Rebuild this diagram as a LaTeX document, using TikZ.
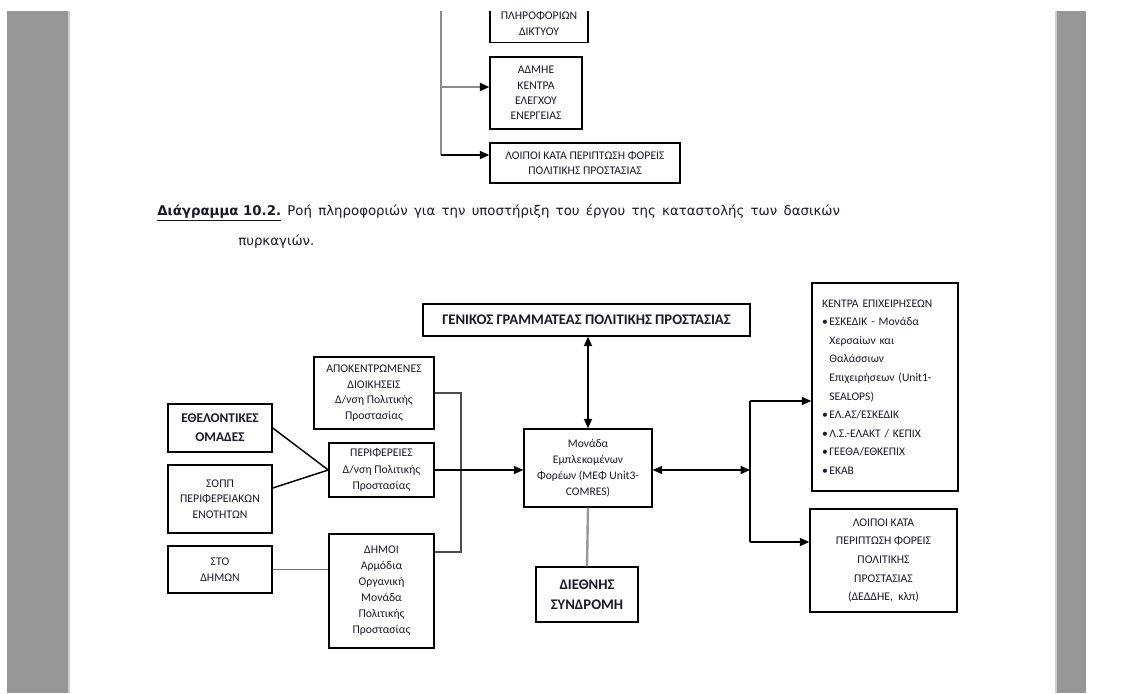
\documentclass[tikz,border=0pt]{standalone}
\usepackage{fontspec}
\setmainfont{Carlito}
\newfontfamily\captionfont{DejaVu Sans}
\usetikzlibrary{arrows.meta,calc}
\definecolor{pagegrey}{RGB}{150,150,150}
\definecolor{pageedge}{RGB}{205,205,205}
\definecolor{inkdark}{RGB}{25,25,45}

\begin{document}
\begin{tikzpicture}[x=0.75pt,y=0.75pt,yscale=-1,xscale=1,
  box/.style={draw=black, line width=1.1pt, align=center, inner sep=2pt, text=inkdark, font=\fontsize{8.8}{11.6}\selectfont},
  tip/.style={-{Triangle[length=7pt,width=6pt,color=black]}},
  twotip/.style={{Triangle[length=7pt,width=6pt]}-{Triangle[length=7pt,width=6pt]}},
  link/.style={line width=1.1pt},
  trunkline/.style={line width=1.4pt, color=black!45},
  thinlink/.style={line width=0.9pt, color=black!70},
  greylink/.style={line width=1.2pt, color=black!55},
  greythick/.style={line width=1.8pt, color=black!40}
]
\useasboundingbox (0,0) rectangle (1132,693);
\fill[white] (0,0) rectangle (1132,693);

%Shape: Rectangle [page margins]
\fill[pagegrey] (7,11) rectangle (68,693);
\fill[pageedge] (68,11) rectangle (70,693);
\fill[pageedge] (1055,11) rectangle (1057,693);
\fill[pagegrey] (1057,11) rectangle (1086,693);

\begin{scope}
\clip (70,11) rectangle (1055,693);

%Shape: Rectangle [top boxes]
\node[box, minimum width=73.5pt, minimum height=28.5pt, anchor=south] (netinfo) at (539,43) {ΠΛΗΡΟΦΟΡΙΩΝ\\ΔΙΚΤΥΟΥ};
\node[box, minimum width=69pt, minimum height=54pt] (admie) at (536,93) {ΑΔΜΗΕ\\ΚΕΝΤΡΑ\\ΕΛΕΓΧΟΥ\\ΕΝΕΡΓΕΙΑΣ};
\node[box, minimum width=142.5pt, minimum height=30pt] (othertop) at (585,163) {ΛΟΙΠΟΙ ΚΑΤΑ ΠΕΡΙΠΤΩΣΗ ΦΟΡΕΙΣ\\ΠΟΛΙΤΙΚΗΣ ΠΡΟΣΤΑΣΙΑΣ};

%Straight Lines [top trunk]
\coordinate (trunk) at (441,0);
\coordinate (trunkA) at (441,87);
\coordinate (trunkB) at (441,155);
\draw[trunkline] (trunk) -- (trunkB);
\draw[tip, trunkline] (trunkA) -- (trunkA -| admie.west);
\draw[tip, link] (trunkB) -- (trunkB -| othertop.west);

% Text Node
\node[anchor=west, inner sep=0pt, text=inkdark, font=\captionfont\fontsize{10}{12}\selectfont] (capline) at (157,213) {\makebox[512pt][s]{\underline{\textbf{Διάγραμμα 10.2.}} Ροή πληροφοριών για την υποστήριξη του έργου της καταστολής των δασικών}};
% Text Node
\node[anchor=west, inner sep=0pt, text=inkdark, font=\captionfont\fontsize{10}{12}\selectfont] (capwrap) at (238,242) {πυρκαγιών.};

%Shape: Rectangle [left column]
\node[box, minimum width=78pt, minimum height=36pt, font=\fontsize{10}{14}\selectfont\bfseries] (ethel) at (220,428) {ΕΘΕΛΟΝΤΙΚΕΣ\\ΟΜΑΔΕΣ};
\node[box, minimum width=78pt, minimum height=51pt] (sopp) at (220,499) {ΣΟΠΠ\\ΠΕΡΙΦΕΡΕΙΑΚΩΝ\\ΕΝΟΤΗΤΩΝ};
\node[box, minimum width=78pt, minimum height=35.25pt] (sto) at (220,569.5) {ΣΤΟ\\ΔΗΜΩΝ};

%Shape: Rectangle [second column]
\node[box, minimum width=90pt, minimum height=54pt] (apok) at (374,393) {ΑΠΟΚΕΝΤΡΩΜΕΝΕΣ\\ΔΙΟΙΚΗΣΕΙΣ\\Δ/νση Πολιτικής\\Προστασίας};
\node[box, minimum width=78.75pt, minimum height=40.5pt, font=\fontsize{8.8}{12.4}\selectfont] (perif) at (381.5,470) {ΠΕΡΙΦΕΡΕΙΕΣ\\Δ/νση Πολιτικής\\Προστασίας};
\node[box, minimum width=78.75pt, minimum height=85.5pt, font=\fontsize{8.8}{12}\selectfont] (dimoi) at (381.5,591) {ΔΗΜΟΙ\\Αρμόδια\\Οργανική\\Μονάδα\\Πολιτικής\\Προστασίας};

%Shape: Rectangle [centre]
\node[box, minimum width=245.25pt, minimum height=24pt, font=\fontsize{11}{13}\selectfont\bfseries] (gen) at (586.5,320) {ΓΕΝΙΚΟΣ ΓΡΑΜΜΑΤΕΑΣ ΠΟΛΙΤΙΚΗΣ ΠΡΟΣΤΑΣΙΑΣ};
\node[box, minimum width=96pt, minimum height=58.5pt, font=\fontsize{8.7}{12}\selectfont] (mef) at (588,468) {Μονάδα\\Εμπλεκομένων\\Φορέων (ΜΕΦ Unit3-\\COMRES)};
\node[box, minimum width=76.5pt, minimum height=41.25pt, font=\fontsize{11}{15}\selectfont\bfseries] (diethnis) at (587,594.5) {ΔΙΕΘΝΗΣ\\ΣΥΝΔΡΟΜΗ};

%Shape: Rectangle [right column]
\node[box, align=left, text width=94.5pt, inner xsep=7.5pt, minimum height=156pt, font=\fontsize{8.7}{13.9}\selectfont] (kentra) at (885,387) {ΚΕΝΤΡΑ ΕΠΙΧΕΙΡΗΣΕΩΝ\\
\makebox[5.5pt][l]{•}ΕΣΚΕΔΙΚ - Μονάδα\\
\hspace*{5.5pt}Χερσαίων και\\
\hspace*{5.5pt}Θαλάσσιων\\
\hspace*{5.5pt}Επιχειρήσεων (Unit1-\\
\hspace*{5.5pt}SEALOPS)\\
\makebox[5.5pt][l]{•}ΕΛ.ΑΣ/ΕΣΚΕΔΙΚ\\
\makebox[5.5pt][l]{•}Λ.Σ.-ΕΛΑΚΤ / ΚΕΠΙΧ\\
\makebox[5.5pt][l]{•}ΓΕΕΘΑ/ΕΘΚΕΠΙΧ\\
\makebox[5.5pt][l]{•}ΕΚΑΒ};
\node[box, minimum width=110.25pt, minimum height=77.25pt, font=\fontsize{8.8}{13.9}\selectfont] (loipoi) at (883.5,560.5) {ΛΟΙΠΟΙ ΚΑΤΑ\\ΠΕΡΙΠΤΩΣΗ ΦΟΡΕΙΣ\\ΠΟΛΙΤΙΚΗΣ\\ΠΡΟΣΤΑΣΙΑΣ\\(ΔΕΔΔΗΕ,\ \ κλπ)};

%Straight Lines [left links]
\draw[link] (ethel.east) -- (perif.west);
\draw[link] ($(sopp.east)+(0,-11)$) -- (perif.west);
\draw[greylink] (sto.east) -- (sto.east -| dimoi.west);

%Straight Lines [bracket]
\coordinate (bracketT) at (461,393);
\coordinate (bracketB) at (461,552);
\draw[thinlink] (apok.east) -- (bracketT) -- (bracketB) -- (bracketB -| dimoi.east);

%Straight Lines [centre links]
\draw[tip, link] (perif.east) -- (perif.east -| mef.west);
\draw[twotip, link] (mef.north |- gen.south) -- (mef.north);
\draw[greythick] (mef.south) -- (diethnis.north);

%Straight Lines [right spine]
\coordinate (spineT) at (750,401);
\coordinate (spineB) at (750,542);
\draw[twotip, link] (perif.east -| mef.east) -- (perif.east -| spineT);
\draw[link] (spineT) -- (spineB);
\draw[tip, link] (spineT) -- (spineT -| kentra.west);
\draw[tip, link] (spineB) -- (spineB -| loipoi.west);

\end{scope}

\end{tikzpicture}
\end{document}
